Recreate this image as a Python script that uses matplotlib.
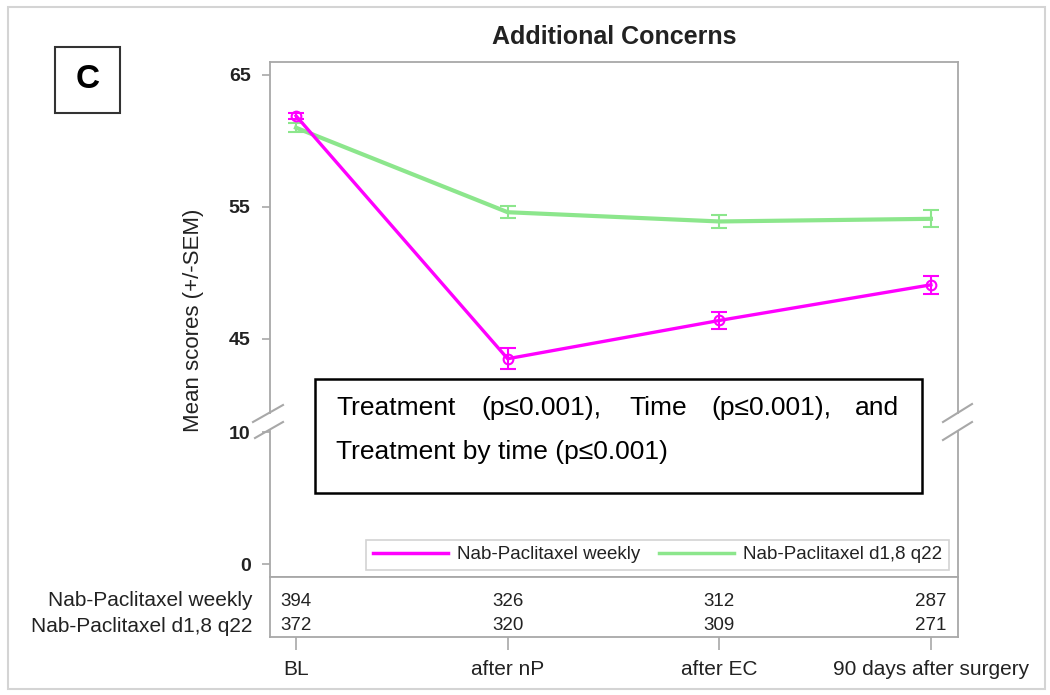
import matplotlib
matplotlib.use("Agg")
import matplotlib.pyplot as plt
from matplotlib.lines import Line2D
from matplotlib.patches import Rectangle
import matplotlib.transforms as mtransforms

plt.rcParams['font.family'] = ['Liberation Sans', 'DejaVu Sans']

# ---------------- data ----------------
timepoints = ["BL", "after nP", "after EC", "90 days after surgery"]
series_names = ["Nab-Paclitaxel weekly", "Nab-Paclitaxel d1,8 q22"]
weekly_mean = [61.9, 43.5, 46.4, 49.1]
weekly_sem = [0.25, 0.8, 0.65, 0.68]
q22_mean = [61.0, 54.6, 53.9, 54.1]
q22_sem = [0.35, 0.45, 0.5, 0.65]
weekly_n = [394, 326, 312, 287]
q22_n = [372, 320, 309, 271]
upper_ticks = [45, 55, 65]
lower_ticks = [0, 10]
title = "Additional Concerns"
ylabel = "Mean scores (+/-SEM)"
stats_line1 = ["Treatment", "(p≤0.001),", "Time", "(p≤0.001),", "and"]
stats_line2 = "Treatment by time (p≤0.001)"

# ---------------- layout helpers ----------------
W, H = 1050, 695
fig = plt.figure(figsize=(W / 100, H / 100), dpi=100)

def fx(x):
    return x / W

def fy(y):
    return 1 - y / H

def axrect(l, t, r, b):
    return [l / W, 1 - b / H, (r - l) / W, (b - t) / H]

MAGENTA = "#FF00FF"
GREEN = "#8CE68C"
SPINE = "#A8A8A8"
TXT = "#222222"
x = list(range(len(timepoints)))
xlim = (-0.123, 3.128)

# upper (broken) axis
ax_u = fig.add_axes(axrect(270, 62, 958, 413))
ax_l = fig.add_axes(axrect(270, 431, 958, 577))
ax_t = fig.add_axes(axrect(270, 577, 958, 637))

for ax in (ax_u, ax_l, ax_t):
    ax.set_xlim(*xlim)
    for s in ax.spines.values():
        s.set_color(SPINE)
        s.set_linewidth(1.3)

ax_u.set_ylim(39.39, 65.98)
ax_l.set_ylim(-0.98, 10.08)
ax_u.spines['bottom'].set_visible(False)
ax_l.spines['top'].set_visible(False)

for ax, ticks in ((ax_u, upper_ticks), (ax_l, lower_ticks)):
    ax.set_yticks(ticks)
    ax.set_yticklabels([str(t) for t in ticks], fontsize=14, fontweight='bold', color=TXT)
    ax.tick_params(axis='y', direction='out', length=6, width=1.2, color=SPINE, pad=8)
    ax.set_xticks([])

# series
ax_u.errorbar(x, q22_mean, yerr=q22_sem, color=GREEN, lw=3.0, capsize=5.5,
              capthick=1.5, elinewidth=1.5, zorder=3)
ax_u.errorbar(x, weekly_mean, yerr=weekly_sem, color=MAGENTA, lw=2.4, capsize=5.5,
              capthick=1.5, elinewidth=1.5, marker='o', markersize=7,
              markerfacecolor='none', markeredgecolor=MAGENTA, markeredgewidth=1.5,
              zorder=4)

# legend
handles = [Line2D([], [], color=MAGENTA, lw=2.5), Line2D([], [], color=GREEN, lw=2.5)]
leg = fig.legend(handles, series_names, loc='lower right',
                 bbox_to_anchor=(fx(949), fy(570)), ncol=2, fontsize=13.5,
                 frameon=True, fancybox=False, handlelength=4.0, handletextpad=0.5,
                 columnspacing=1.0, borderpad=0.35, borderaxespad=0)
leg.get_frame().set_edgecolor('#C8C8C8')
leg.get_frame().set_linewidth(1.2)
for t in leg.get_texts():
    t.set_color(TXT)

# table axis
ax_t.set_ylim(0, 1)
ax_t.set_yticks([])
ax_t.set_xticks(x)
ax_t.set_xticklabels(timepoints, fontsize=15, color=TXT)
ax_t.tick_params(axis='x', direction='out', length=9.5, width=1.2, color=SPINE, pad=7)
trans = mtransforms.blended_transform_factory(ax_t.transData, ax_t.transAxes)
for xi, n in zip(x, weekly_n):
    ax_t.text(xi, 0.6, str(n), transform=trans, ha='center', va='center', fontsize=13.5, color=TXT)
for xi, n in zip(x, q22_n):
    ax_t.text(xi, 0.2, str(n), transform=trans, ha='center', va='center', fontsize=13.5, color=TXT)
fig.text(fx(252), fy(600), series_names[0], ha='right', va='center', fontsize=15, color=TXT)
fig.text(fx(252), fy(626), series_names[1], ha='right', va='center', fontsize=15, color=TXT)

# break marks
for (x0, y0, x1, y1) in [(253, 422, 283, 405), (255, 438, 283, 422),
                         (943, 422, 972, 404), (943, 440, 972, 422)]:
    fig.add_artist(Line2D([fx(x0), fx(x1)], [fy(y0), fy(y1)], color=SPINE, lw=1.5))

# title and labels
fig.text(fx(614), fy(37), title, ha='center', va='center', fontsize=18, fontweight='bold', color=TXT)
fig.text(fx(193), fy(320), ylabel, ha='center', va='center', rotation=90, fontsize=16, color=TXT)

# statistics box
fig.add_artist(Rectangle((fx(315), fy(493)), fx(922) - fx(315), fy(379) - fy(493),
                         transform=fig.transFigure, facecolor='white', edgecolor='black',
                         lw=1.8, zorder=10))
word_x = [336, 481, 629, 711, 899]
for wx, w in zip(word_x, stats_line1):
    fig.text(fx(wx), fy(408), w, ha='right' if w == 'and' else 'left', va='center',
             fontsize=19, color='black', zorder=11)
fig.text(fx(336), fy(452), stats_line2, ha='left', va='center', fontsize=19, color='black', zorder=11)

# panel letter box
fig.add_artist(Rectangle((fx(55), fy(113)), fx(120) - fx(55), fy(47) - fy(113),
                         transform=fig.transFigure, facecolor='white', edgecolor='#333333', lw=1.5))
fig.text(fx(88), fy(80), "C", ha='center', va='center', fontsize=24, fontweight='bold', color='black')

# outer frame
fig.add_artist(Rectangle((fx(8), fy(689)), fx(1045) - fx(8), fy(7) - fy(689),
                         transform=fig.transFigure, facecolor='none', edgecolor='#D4D4D4', lw=1.5))

fig.savefig("out.png", dpi=100)
